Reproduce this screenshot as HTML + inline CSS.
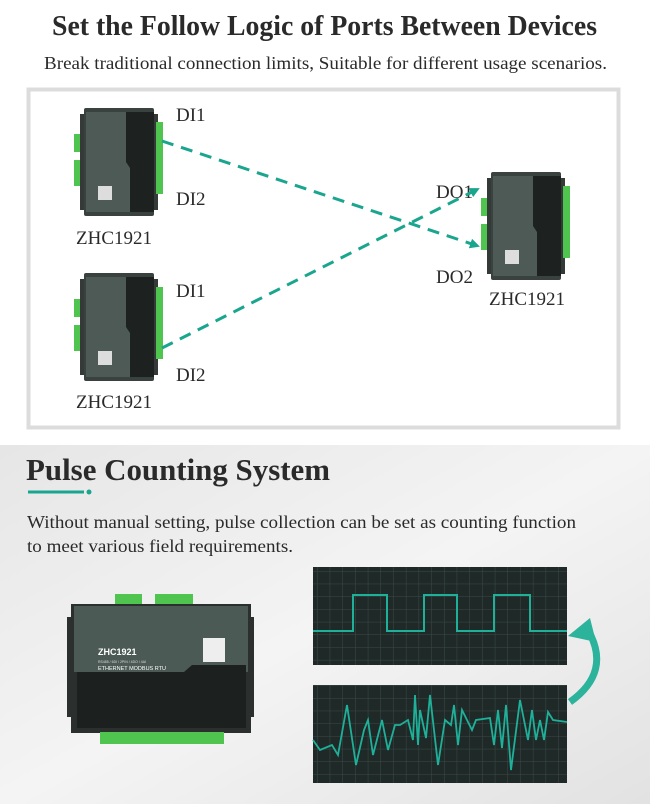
<!DOCTYPE html>
<html><head><meta charset="utf-8"><style>
html,body{margin:0;padding:0;width:650px;height:804px;overflow:hidden;background:#fff;font-family:"Liberation Serif",serif}
</style></head><body>
<svg width="650" height="804" viewBox="0 0 650 804" xmlns="http://www.w3.org/2000/svg" font-family="Liberation Serif, serif">
<defs>
<linearGradient id="bg" x1="0" y1="0" x2="1" y2="1">
<stop offset="0" stop-color="#e6e6e6"/><stop offset="0.5" stop-color="#f4f4f4"/><stop offset="1" stop-color="#e2e2e2"/>
</linearGradient>
<pattern id="grid" width="12.7" height="12.7" patternUnits="userSpaceOnUse">
<rect width="12.7" height="12.7" fill="#1f2a28"/>
<path d="M12.7 0V12.7M0 12.7H12.7" stroke="#3c4946" stroke-width="1"/>
</pattern>
<marker id="ah" markerWidth="10" markerHeight="10" refX="8" refY="5" orient="auto" markerUnits="userSpaceOnUse">
<path d="M0 0L10 5L0 10z" fill="#1aa58e"/>
</marker>
<g id="dev">
<rect x="0" y="6" width="78" height="96" fill="#333a38"/>
<rect x="4" y="0" width="70" height="108" rx="2" fill="#3a423f"/>
<rect x="6" y="4" width="50" height="100" fill="#4d5a56"/>
<path d="M50 4H74V104H50V60L46 54V4z" fill="#1d2220"/>
<rect x="-6" y="26" width="6" height="18" fill="#4fc44f"/>
<rect x="-6" y="52" width="6" height="26" fill="#4fc44f"/>
<rect x="76" y="14" width="7" height="72" fill="#4fc44f"/>
<rect x="18" y="78" width="14" height="14" fill="#ddd"/>
</g>
</defs>
<rect width="650" height="445" fill="#fff"/>
<text x="52" y="35" textLength="545" lengthAdjust="spacingAndGlyphs" font-size="28" font-weight="bold" fill="#2a2a2a">Set the Follow Logic of Ports Between Devices</text>
<text x="44" y="69" textLength="563" lengthAdjust="spacingAndGlyphs" font-size="18" fill="#2a2a2a">Break traditional connection limits, Suitable for different usage scenarios.</text>
<rect x="28.5" y="89.5" width="590" height="338" fill="#fff" stroke="#dcdcdc" stroke-width="4"/>
<use href="#dev" x="80" y="108"/>
<use href="#dev" x="80" y="273"/>
<use href="#dev" x="487" y="172"/>
<g font-size="19" fill="#2a2a2a">
<text x="176" y="121">DI1</text><text x="176" y="205">DI2</text>
<text x="176" y="297">DI1</text><text x="176" y="381">DI2</text>
<text x="76" y="244">ZHC1921</text><text x="76" y="408">ZHC1921</text>
<text x="436" y="198">DO1</text><text x="436" y="283">DO2</text>
<text x="489" y="305">ZHC1921</text>
</g>
<line x1="162" y1="141" x2="478" y2="246" stroke="#1aa58e" stroke-width="3" stroke-dasharray="12,8" marker-end="url(#ah)"/>
<line x1="162" y1="348" x2="478" y2="189" stroke="#1aa58e" stroke-width="3" stroke-dasharray="12,8" marker-end="url(#ah)"/>
<rect y="445" width="650" height="359" fill="url(#bg)"/>
<text x="26" y="480" textLength="304" lengthAdjust="spacingAndGlyphs" font-size="31" font-weight="bold" fill="#2a2a2a">Pulse Counting System</text>
<line x1="28" y1="492" x2="84" y2="492" stroke="#1aa58e" stroke-width="3"/>
<circle cx="89" cy="492" r="2.5" fill="#1aa58e"/>
<text x="27" y="528" textLength="549" lengthAdjust="spacingAndGlyphs" font-size="18" fill="#2a2a2a">Without manual setting, pulse collection can be set as counting function</text>
<text x="27" y="552" textLength="266" lengthAdjust="spacingAndGlyphs" font-size="18" fill="#2a2a2a">to meet various field requirements.</text>
<rect x="313" y="567" width="254" height="98" fill="url(#grid)"/>
<path d="M313 631H353V595H387V631H424V595H457V631H494V595H530V631H567" fill="none" stroke="#1fb09a" stroke-width="2"/>
<rect x="313" y="685" width="254" height="98" fill="url(#grid)"/>
<path d="M313 740L320 750L332 745L338 755L347 705L356 765L364 730L368 720L373 755L382 720L388 750L395 725L400 725L408 720L413 740L415 695L418 745L420 710L426 738L430 695L438 765L445 720L451 725L454 705L458 745L462 710L472 730L476 720L490 718L494 745L498 710L502 748L506 705L511 770L520 700L528 740L532 710L536 740L540 720L544 740L548 712L553 720L567 722" fill="none" stroke="#1fb09a" stroke-width="1.8"/>
<path d="M570 702Q612 672 588 630" fill="none" stroke="#2bb39c" stroke-width="7"/>
<path d="M568 636L590 618L596 642z" fill="#2bb39c"/>
<g>
<rect x="115" y="594" width="27" height="11" fill="#4fc44f"/>
<rect x="155" y="594" width="38" height="11" fill="#4fc44f"/>
<rect x="67" y="617" width="6" height="100" fill="#2b302e"/>
<rect x="248" y="617" width="6" height="100" fill="#2b302e"/>
<rect x="71" y="604" width="180" height="129" fill="#2b302e"/>
<rect x="74" y="606" width="174" height="66" fill="#4b5a55"/>
<path d="M77 672H184L192 665H246V728H77z" fill="#1c201f"/>
<rect x="100" y="732" width="124" height="12" fill="#4fc44f"/>
<rect x="203" y="638" width="22" height="24" fill="#eee"/>
<text x="98" y="655" font-family="Liberation Sans, sans-serif" font-size="9" fill="#fff" font-weight="bold">ZHC1921</text>
<text x="98" y="663" font-family="Liberation Sans, sans-serif" font-size="3.5" fill="#ddd">RS485 / 6DI / 2PIN / 4DO / 4AI</text>
<text x="98" y="670" font-family="Liberation Sans, sans-serif" font-size="5.5" fill="#fff">ETHERNET MODBUS RTU</text>
</g>
</svg>
</body></html>
